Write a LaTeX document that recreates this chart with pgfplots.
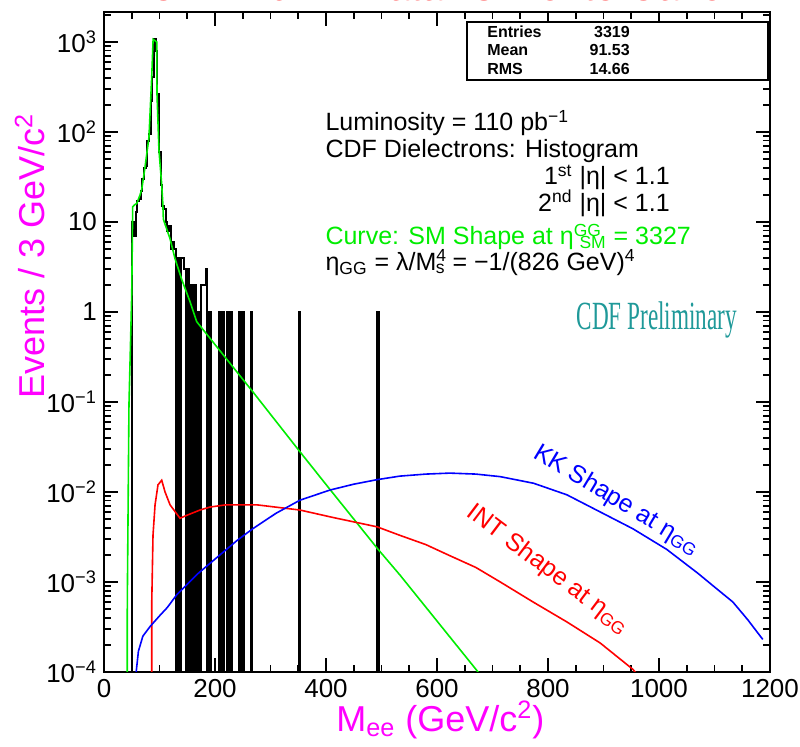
\documentclass[border=0pt]{standalone}
\usepackage{pgfplots}
\pgfplotsset{compat=1.18}
\usepackage{fontspec}
\setmainfont{Liberation Sans}
\newfontfamily\seriffont{Liberation Serif}
\definecolor{smgreen}{rgb}{0,0.93,0}
\definecolor{cdfteal}{rgb}{0.12,0.6,0.6}
\definecolor{mag}{rgb}{1,0,1}
\begin{document}
\begin{tikzpicture}
\begin{axis}[
  at={(0,0)}, anchor=south west,
  scale only axis, width=333pt, height=330pt,
  xmin=0, xmax=1200, ymode=log, ymin=1e-4, ymax=2150,
  xtick={0,200,...,1200}, minor x tick num=3,
  ytick={1e-4,1e-3,1e-2,1e-1,1,10,100,1000},
  yticklabels={10\textsuperscript{−4},10\textsuperscript{−3},10\textsuperscript{−2},10\textsuperscript{−1},1,10,10\textsuperscript{2},10\textsuperscript{3}},
  minor ytick={2e-4,3e-4,4e-4,5e-4,6e-4,7e-4,8e-4,9e-4,
               2e-3,3e-3,4e-3,5e-3,6e-3,7e-3,8e-3,9e-3,
               2e-2,3e-2,4e-2,5e-2,6e-2,7e-2,8e-2,9e-2,
               0.2,0.3,0.4,0.5,0.6,0.7,0.8,0.9,
               2,3,4,5,6,7,8,9,20,30,40,50,60,70,80,90,
               200,300,400,500,600,700,800,900,2000},
  scaled x ticks=false,
  /pgf/number format/assume math mode=true,
  xticklabel style={/pgf/number format/1000 sep={}},
  tick align=inside,
  major tick length=7pt, minor tick length=3.5pt,
  every tick/.style={black, line width=0.8pt},
  axis line style={line width=1pt},
  tick label style={font=\fontsize{13}{13}\selectfont},
  xlabel={M\textsubscript{ee} (GeV/c\textsuperscript{2})},
  ylabel={Events / 3 GeV/c\textsuperscript{2}},
  xlabel style={font=\fontsize{18}{18}\selectfont, text=mag, at={(axis description cs:0.505,-0.073)}, anchor=center},
  ylabel style={font=\fontsize{18}{18}\selectfont, text=mag, at={(axis description cs:-0.111,0.63)}, anchor=center},
]
% Data histogram (3 GeV bins, left edge : content; empty bins at 1e-6)
\addplot[const plot, black, line width=1pt] coordinates {
(45,1e-6)(48,1e-6)(51,10)(54,7)(57,13)(60,17)(63,18)(66,22)(69,30)(72,40)(75,42)(78,80)(81,95)
(84,220)(87,410)(90,1080)(93,800)(96,265)(99,60)(102,26)(105,15)(108,14)(111,10)(114,8)(117,9)
(120,5)(123,6)(126,5)(129,1e-6)(132,4)(135,1e-6)(138,4)(141,4)(144,3)(147,1e-6)(150,3)(153,1e-6)
(156,2)(159,1e-6)(162,2)(165,1e-6)(168,1)(171,1e-6)(174,2)(177,2)(180,2)(183,3)(186,1e-6)(189,1)
(192,1e-6)(195,1e-6)(198,1e-6)(201,1e-6)(204,1e-6)(207,1)(210,1e-6)(213,1)(216,1e-6)(219,1e-6)
(222,1)(225,1e-6)(228,1)(231,1e-6)(234,1e-6)(237,1e-6)(240,1e-6)(243,1)(246,1e-6)(249,1)(252,1e-6)
(255,1e-6)(258,1e-6)(261,1e-6)(264,1)(267,1e-6)(270,1e-6)(351,1)(354,1e-6)(492,1)(495,1e-6)(1200,1e-6)
};
% SM shape
\addplot[smgreen, line width=0.8pt] coordinates {
(41.5,1e-6)(42,6e-4)(45,0.093)(50,1.6)(51.7,14.7)(55,15.5)(59,16)(65,20)(68,23)(74,41)(81,87)
(86,410)(88.5,1070)(95,1000)(95.5,265)(99,63)(104,26)(106,16)(107,10.7)(119,6.5)(128,3.9)(140,2.3)
(155,1.3)(167,0.78)(268,0.13)(353,0.028)(407,0.0107)(494,0.0023)(533,0.0012)(674,1e-4)(690,5e-5)
};
% INT shape
\addplot[red, line width=0.8pt] coordinates {
(86,1e-6)(86,5.7e-4)(88.3,3.3e-3)(92,7.2e-3)(97.3,0.012)(104,0.0135)(110,0.01)(119,7.2e-3)(137,5.1e-3)
(149,5.5e-3)(173,6.3e-3)(191,6.8e-3)(220,7.2e-3)(275,7.2e-3)(353,6.3e-3)(413,5.2e-3)(492,4.1e-3)
(533,3.3e-3)(580,2.6e-3)(620,2.0e-3)(670,1.45e-3)(714,1e-3)(773,6e-4)(834,3.6e-4)(894,2.1e-4)(953,1.07e-4)(970,8e-5)
};
% KK shape
\addplot[blue, line width=0.8pt] coordinates {
(56,1e-6)(58,1e-4)(62,1.7e-4)(70,2.5e-4)(83,3.2e-4)(100,4.2e-4)(114,5.2e-4)(131,7.2e-4)(170,1.25e-3)
(209,2e-3)(240,2.9e-3)(268,3.9e-3)(310,5.8e-3)(353,8.1e-3)(407,0.0105)(450,0.0122)(492,0.0137)
(533,0.0150)(580,0.0158)(623,0.0162)(670,0.0158)(714,0.0148)(774,0.0125)(834,9.3e-3)(894,6e-3)
(953,3.9e-3)(1014,2.3e-3)(1070,1.25e-3)(1100,8.8e-4)(1133,6e-4)(1160,3.8e-4)(1187,2.3e-4)
};
% statistics box
\draw[line width=0.8pt, fill=white] (rel axis cs:0.545,0.897) rectangle (rel axis cs:0.997,0.985);
\node[anchor=base west, font=\fontsize{8}{8}\selectfont\bfseries] at (rel axis cs:0.565,0.962) {Entries};
\node[anchor=base west, font=\fontsize{8}{8}\selectfont\bfseries] at (rel axis cs:0.565,0.934) {Mean};
\node[anchor=base west, font=\fontsize{8}{8}\selectfont\bfseries] at (rel axis cs:0.565,0.906) {RMS};
\node[anchor=base east, font=\fontsize{8}{8}\selectfont\bfseries] at (rel axis cs:0.80,0.962) {3319};
\node[anchor=base east, font=\fontsize{8}{8}\selectfont\bfseries] at (rel axis cs:0.80,0.934) {91.53};
\node[anchor=base east, font=\fontsize{8}{8}\selectfont\bfseries] at (rel axis cs:0.80,0.906) {14.66};
% annotations
\node[anchor=base west, font=\fontsize{12.5}{12.5}\selectfont] at (rel axis cs:0.322,0.820) {Luminosity = 110 pb\textsuperscript{−1}};
\node[anchor=base west, font=\fontsize{12.5}{12.5}\selectfont] at (rel axis cs:0.322,0.779) {CDF Dielectrons: Histogram};
\node[anchor=base east, font=\fontsize{12.5}{12.5}\selectfont] at (rel axis cs:0.86,0.738) {1\textsuperscript{st} |η| < 1.1};
\node[anchor=base east, font=\fontsize{12.5}{12.5}\selectfont] at (rel axis cs:0.86,0.698) {2\textsuperscript{nd} |η| < 1.1};
\node[anchor=base west, text=smgreen, font=\fontsize{12.5}{12.5}\selectfont] at (rel axis cs:0.322,0.647) {Curve: SM Shape at η\textsuperscript{GG}\kern-0.9em\textsubscript{SM} = 3327};
\node[anchor=base west, font=\fontsize{12.5}{12.5}\selectfont] at (rel axis cs:0.322,0.609) {η\textsubscript{GG} = λ/M\textsuperscript{4}\kern-0.45em\textsubscript{s} = −1/(826 GeV)\textsuperscript{4}};
\node[text=cdfteal, font=\seriffont\fontsize{20}{20}\selectfont] at (rel axis cs:0.83,0.533) {\scalebox{0.58}[1]{CDF Preliminary}};
\node[text=blue, rotate=-31, font=\fontsize{12.5}{12.5}\selectfont] at (rel axis cs:0.77,0.26) {KK Shape at η\textsubscript{GG}};
\node[text=red, rotate=-37, font=\fontsize{12.5}{12.5}\selectfont] at (rel axis cs:0.667,0.155) {INT Shape at η\textsubscript{GG}};
\end{axis}
\node[anchor=base, text=red, font=\fontsize{20}{20}\selectfont] at (166pt,335.5pt) {CDF Run II Data vs Monte Carlo};
\pgfresetboundingbox
\useasboundingbox (-52pt,-37.5pt) rectangle (348pt,336pt);
\end{tikzpicture}
\end{document}
